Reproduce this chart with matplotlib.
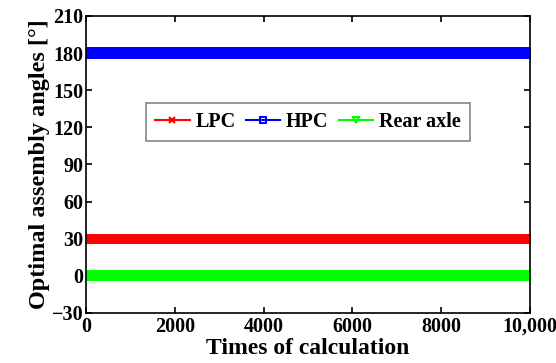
import numpy as np
import matplotlib
matplotlib.use("Agg")
import matplotlib.pyplot as plt

# optimal assembly angles found at each calculation (constant across runs)
n_calculations = 10000
series_names = ["LPC", "HPC", "Rear axle"]
series_angles = [30, 180, 0]
series_colors = ["#ff0000", "#0000ff", "#00ff00"]
series_markers = ["x", "s", "v"]

x_ticks = [0, 2000, 4000, 6000, 8000, 10000]
x_tick_labels = ["0", "2000", "4000", "6000", "8000", "10,000"]
y_ticks = [-30, 0, 30, 60, 90, 120, 150, 180, 210]
y_tick_labels = ["\u221230", "0", "30", "60", "90", "120", "150", "180", "210"]

plt.rcParams["font.family"] = ["Liberation Serif", "DejaVu Serif"]
plt.rcParams["font.weight"] = "bold"

fig = plt.figure(figsize=(5.56, 3.63), dpi=100)
ax = fig.add_axes([0.155, 0.138, 0.798, 0.818])

times = np.arange(1, n_calculations + 1)
for name, angle, color, marker in zip(series_names, series_angles, series_colors, series_markers):
    ax.plot(times, np.full(times.shape, angle), color=color, lw=1.5,
            marker=marker, markersize=6, markeredgewidth=1.5,
            markerfacecolor="none" if marker != "x" else color, label=name)

ax.set_xlim(0, 10000)
ax.set_ylim(-30, 210)
ax.set_xticks(x_ticks)
ax.set_xticklabels(x_tick_labels)
ax.set_yticks(y_ticks)
ax.set_yticklabels(y_tick_labels)
ax.tick_params(direction="in", top=True, right=True, labelsize=14.5, length=4, width=1.2)
ax.tick_params(axis="x", pad=3)
ax.tick_params(axis="y", pad=2)
for s in ax.spines.values():
    s.set_linewidth(1.2)

ax.set_xlabel("Times of calculation", fontsize=17, fontweight="bold", labelpad=0.5)
ax.set_ylabel("Optimal assembly angles [\u00b0]", fontsize=17.5, fontweight="bold", labelpad=1)

leg = ax.legend(loc="center", bbox_to_anchor=(0.5, 0.642), ncol=3, fontsize=14.5,
                fancybox=False, edgecolor="#666666", handlelength=1.7,
                handletextpad=0.3, columnspacing=0.5, borderpad=0.45,
                borderaxespad=0, markerscale=0.7)
leg.get_frame().set_linewidth(1.2)

fig.savefig("out.png", dpi=100)
